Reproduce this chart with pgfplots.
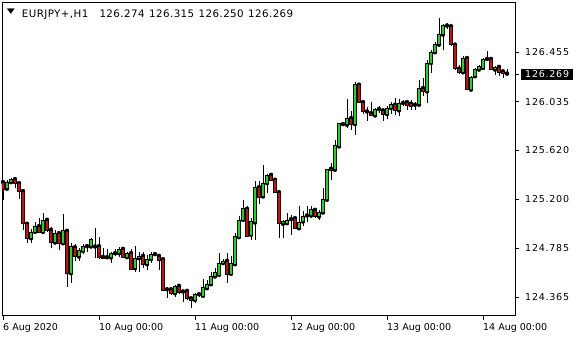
\documentclass[border=0pt]{standalone}
\usepackage{pgfplots}
\usepackage{pgfplotstable}
\pgfplotsset{compat=1.18}
\usepackage{fontspec}
\setmainfont{DejaVu Sans}
\definecolor{bull}{RGB}{20,225,20}
\definecolor{bear}{RGB}{215,10,10}
\pgfplotstableread{
o h l c
125.348 125.353 125.191 125.288
125.291 125.362 125.288 125.348
125.348 125.382 125.339 125.373
125.373 125.382 125.296 125.339
125.339 125.348 125.205 125.271
125.271 125.276 124.940 124.992
124.992 125.011 124.826 124.869
124.869 124.949 124.826 124.923
124.923 125.011 124.912 124.972
124.972 125.040 124.912 124.920
124.923 125.088 124.912 125.026
125.026 125.040 124.920 124.935
124.940 124.963 124.781 124.832
124.832 124.940 124.818 124.912
124.912 124.926 124.769 124.826
124.826 125.077 124.812 124.940
124.932 124.940 124.456 124.570
124.570 124.826 124.490 124.803
124.792 124.818 124.678 124.712
124.712 124.784 124.675 124.769
124.761 124.821 124.735 124.803
124.801 124.812 124.755 124.798
124.798 124.869 124.792 124.860
124.798 124.955 124.698 124.795
124.801 124.877 124.690 124.704
124.709 124.781 124.690 124.695
124.707 124.775 124.695 124.704
124.704 124.755 124.655 124.741
124.741 124.775 124.718 124.738
124.741 124.792 124.712 124.775
124.778 124.784 124.698 124.707
124.707 124.750 124.698 124.740
124.741 124.775 124.599 124.604
124.613 124.798 124.584 124.698
124.698 124.755 124.584 124.713
124.718 124.755 124.613 124.647
124.647 124.727 124.599 124.690
124.690 124.755 124.656 124.733
124.733 124.747 124.713 124.730
124.718 124.727 124.599 124.678
124.690 124.698 124.422 124.428
124.433 124.451 124.357 124.430
124.433 124.442 124.385 124.399
124.399 124.471 124.371 124.456
124.462 124.471 124.394 124.405
124.414 124.428 124.328 124.411
124.419 124.428 124.342 124.354
124.357 124.365 124.271 124.337
124.342 124.399 124.314 124.391
124.391 124.399 124.371 124.393
124.377 124.519 124.365 124.451
124.442 124.513 124.433 124.479
124.476 124.584 124.471 124.547
124.542 124.613 124.528 124.576
124.556 124.741 124.547 124.656
124.656 124.690 124.641 124.676
124.676 124.741 124.485 124.562
124.565 124.713 124.556 124.656
124.647 124.912 124.641 124.889
124.878 125.055 124.869 125.026
125.026 125.197 125.012 125.120
125.120 125.140 124.884 124.889
124.898 125.040 124.855 125.011
125.003 125.353 124.855 125.305
125.305 125.353 125.162 125.219
125.225 125.496 125.211 125.339
125.339 125.419 125.254 125.410
125.410 125.419 125.353 125.362
125.368 125.382 125.254 125.259
125.262 125.268 124.869 124.997
124.992 125.026 124.869 125.017
124.997 125.083 124.983 125.026
125.031 125.068 124.898 125.029
125.040 125.040 124.952 124.954
124.954 125.140 124.940 125.003
125.011 125.097 124.969 125.060
125.063 125.140 125.011 125.061
125.063 125.140 125.040 125.117
125.111 125.125 125.040 125.060
125.054 125.111 125.020 125.088
125.088 125.296 125.083 125.197
125.197 125.453 125.197 125.453
125.462 125.510 125.368 125.447
125.453 125.709 125.439 125.658
125.652 125.852 125.647 125.846
125.843 125.852 125.823 125.845
125.837 126.057 125.809 125.894
125.894 125.951 125.795 125.843
125.843 126.199 125.752 126.179
126.179 126.188 126.023 126.028
126.031 126.037 125.931 125.951
125.951 125.988 125.866 125.949
125.937 126.028 125.909 125.917
125.917 125.980 125.909 125.971
125.971 125.994 125.937 125.970
125.960 125.966 125.866 125.929
125.929 126.000 125.889 125.980
125.980 126.028 125.931 126.008
126.008 126.065 125.923 125.960
125.960 126.057 125.909 126.023
126.023 126.045 125.994 126.021
126.031 126.037 125.966 126.000
126.017 126.051 125.966 125.994
126.008 126.028 125.960 126.006
126.008 126.222 126.000 126.151
126.151 126.236 126.080 126.122
126.122 126.393 126.023 126.359
126.365 126.479 126.279 126.459
126.456 126.541 126.450 126.521
126.521 126.749 126.507 126.607
126.607 126.701 126.479 126.684
126.684 126.707 126.655 126.682
126.678 126.684 126.507 126.521
126.521 126.536 126.308 126.322
126.316 126.350 126.274 126.285
126.285 126.422 126.274 126.407
126.407 126.416 126.131 126.137
126.137 126.256 126.131 126.245
126.251 126.322 126.237 126.313
126.308 126.350 126.293 126.336
126.322 126.407 126.313 126.399
126.399 126.464 126.379 126.397
126.399 126.407 126.302 126.308
126.308 126.336 126.265 126.331
126.331 126.336 126.251 126.285
126.293 126.302 126.237 126.274
126.274 126.315 126.250 126.269
}\candles
\pgfplotsset{chartbox/.style={at={(2pt,24.5pt)}, anchor=south west,
  scale only axis, width=513pt, height=313.5pt,
  xmin=0.75, xmax=129, ymin=124.209, ymax=126.885}}
\begin{document}
\begin{tikzpicture}
\useasboundingbox (0,0) rectangle (580pt,340pt);
\fill[white] (0,0) rectangle (580pt,340pt);
% wicks
\begin{axis}[chartbox, hide axis]
\addplot[only marks, mark=none,
  error bars/.cd, y dir=both, y explicit, error mark=none,
  error bar style={black, line width=0.7pt}]
  table[x expr=\coordindex+1, y=o, y error plus expr=\thisrow{h}-\thisrow{o}, y error minus expr=\thisrow{o}-\thisrow{l}] {\candles};
\end{axis}
% bodies, frame and ticks
\begin{axis}[chartbox,
  ybar stacked, bar width=2.5pt,
  axis line style={black, line width=0.8pt},
  xtick={1,25,49,73,97,121},
  xticklabels={6 Aug 2020,10 Aug 00:00,11 Aug 00:00,12 Aug 00:00,13 Aug 00:00,14 Aug 00:00},
  ytick={124.365,124.785,125.200,125.620,126.035,126.455},
  yticklabels={124.365,124.785,125.200,125.620,126.035,126.455},
  extra y ticks={126.269},
  extra y tick labels={126.269},
  extra y tick style={yticklabel style={fill=black, text=white, inner xsep=4.3pt, inner ysep=2pt, xshift=-4.3pt}},
  xtick pos=left, ytick pos=right, yticklabel pos=right,
  tick align=outside, major tick length=4pt,
  tick style={black, line width=0.8pt},
  xticklabel style={anchor=north west, inner sep=0pt, yshift=-4.2pt, font=\fontsize{9.5}{11}\selectfont},
  yticklabel style={anchor=west, inner sep=0pt, xshift=6pt, font=\fontsize{9.5}{11}\selectfont\addfontfeature{LetterSpace=8}},
]
\addplot[draw=none, fill=none]
  table[x expr=\coordindex+1, y expr={min(\thisrow{o},\thisrow{c})}] {\candles};
\addplot[draw=black, line width=0.55pt, fill=bull]
  table[x expr=\coordindex+1, y expr={max(\thisrow{c}-\thisrow{o},0)}] {\candles};
\addplot[draw=black, line width=0.55pt, fill=bear]
  table[x expr=\coordindex+1, y expr={max(\thisrow{o}-\thisrow{c},0)}] {\candles};
\end{axis}
\node[anchor=center, inner sep=0pt, font=\fontsize{9.5}{11}\selectfont] at (11pt,328pt) {\scalebox{1.1}[0.75]{▼}};
\begin{scope}[every node/.style={anchor=base west, inner sep=0pt, font=\fontsize{10.3}{12}\selectfont\addfontfeature{LetterSpace=4}}]
\node at (21.7pt,322.7pt) {EURJPY+,H1};
\node at (99.3pt,322.7pt) {126.274};
\node at (149pt,322.7pt) {126.315};
\node at (198.5pt,322.7pt) {126.250};
\node at (248pt,322.7pt) {126.269};
\end{scope}
\end{tikzpicture}
\end{document}
